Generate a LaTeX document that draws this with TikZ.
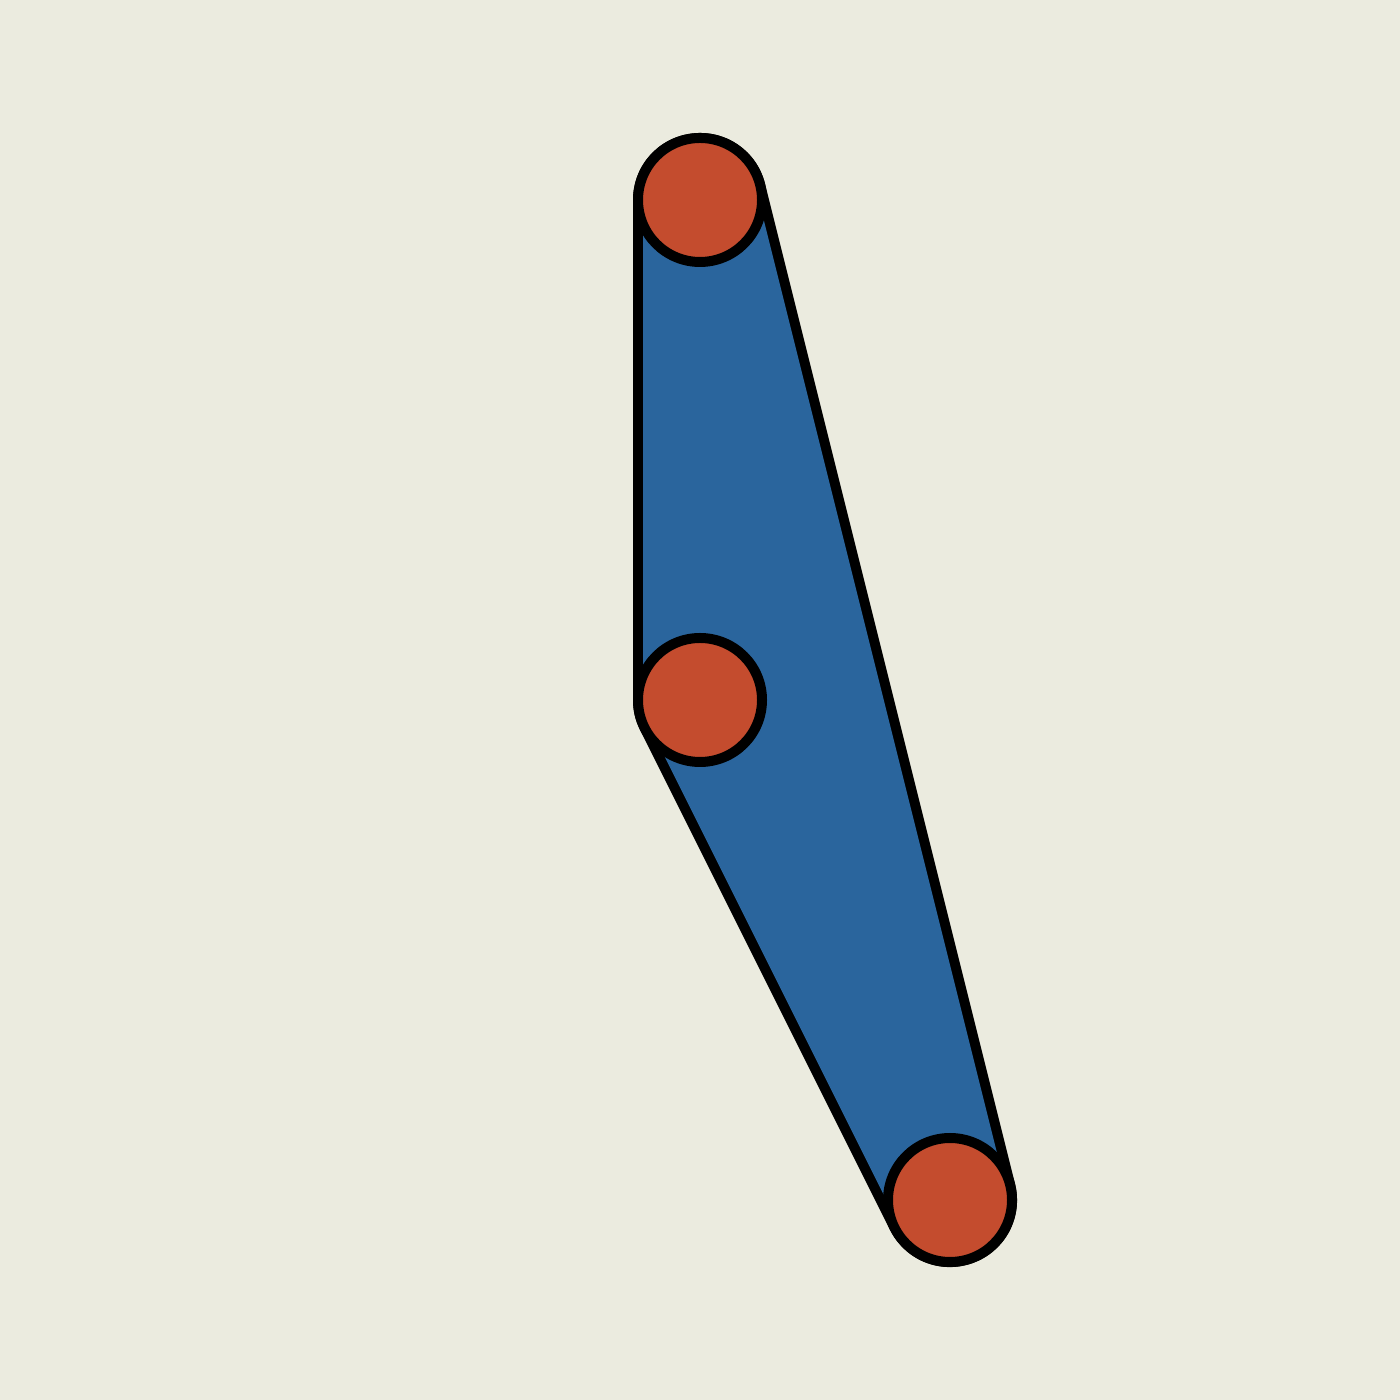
\documentclass[tikz,border=0pt]{standalone}
\usepackage{tikz}
\definecolor{paper}{RGB}{235,235,223}
\definecolor{hullblue}{RGB}{42,101,157}
\definecolor{dotred}{RGB}{196,76,46}

\begin{document}
\begin{tikzpicture}
	\tikzstyle{every node} = [circle, fill=dotred, draw=black, line width=1mm, minimum size = 1.24cm, inner sep=0pt]
	\fill[paper] (0, 0) rectangle (14, 14);
	\useasboundingbox (0, 0) rectangle (14, 14);
	\coordinate (top) at (7.0, 12.0);
	\coordinate (mid) at (7.0, 7.0);
	\coordinate (low) at (9.5, 2.0);
	% hull round the three points
	\draw [black, line width=1.34cm, line join=round] (top)--(mid)--(low)--cycle;
	\fill [hullblue] (top)--(mid)--(low)--cycle;
	\draw [hullblue, line width=1.14cm, line join=round] (top)--(mid)--(low)--cycle;
	\node (Top) at (top) {};
	\node (Mid) at (mid) {};
	\node (Low) at (low) {};
\end{tikzpicture}
\end{document}
